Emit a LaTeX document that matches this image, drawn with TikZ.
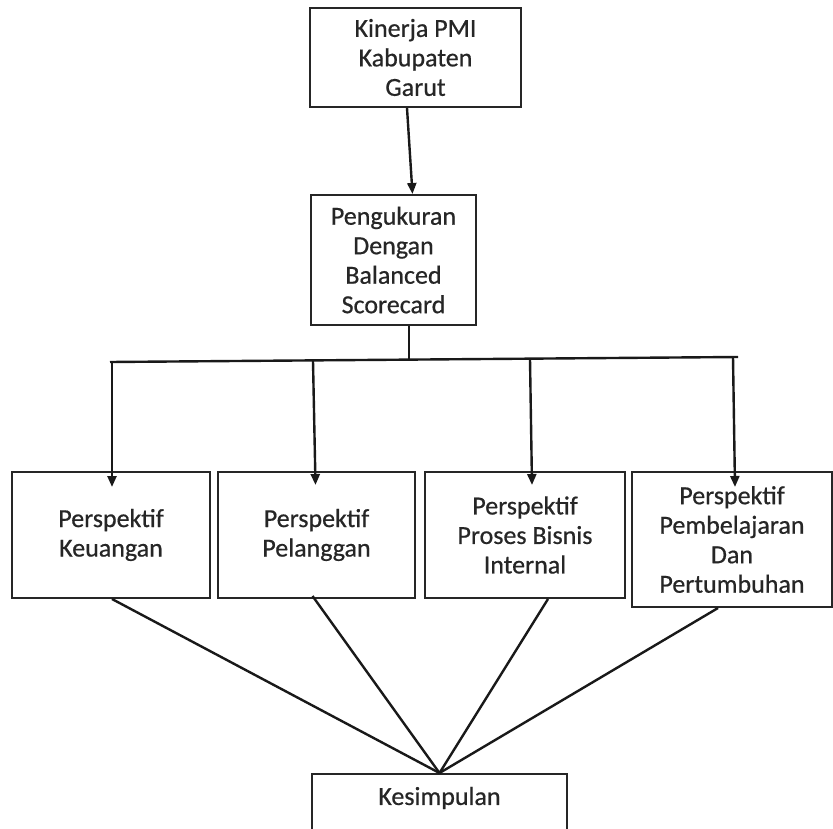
\documentclass[tikz,border=0pt]{standalone}
\usepackage{fontspec}
\setmainfont{Carlito}
\newfontfamily\boxfont{Carlito}[FakeBold=0.6]
\usetikzlibrary{arrows.meta}
\definecolor{txt}{HTML}{262626}
\tikzset{
  box/.style={draw=black!85, line width=2pt, rectangle, align=center, text=txt,
    font=\boxfont\fontsize{26}{29.5}\selectfont, inner sep=2pt},
  conn/.style={draw=black!90, line width=2.4pt},
  arr/.style={conn, -{Triangle[width=9pt,length=11pt]}}
}
\begin{document}
\begin{tikzpicture}[x=1pt,y=-1pt]
\useasboundingbox (0,0) rectangle (833,829);
\clip (0,0) rectangle (833,829);
\node[box, minimum width=211pt, minimum height=99pt] (top) at (415.5,57.5) {Kinerja PMI\\Kabupaten\\Garut};
\node[box, minimum width=165pt, minimum height=130pt] (pen) at (393.5,260) {Pengukuran\\Dengan\\Balanced\\Scorecard};
\node[box, minimum width=198pt, minimum height=126pt] (b1) at (111,535) {Perspektif\\Keuangan};
\node[box, minimum width=197pt, minimum height=126pt] (b2) at (316.5,535) {Perspektif\\Pelanggan};
\node[box, minimum width=200pt, minimum height=126pt] (b3) at (525,535) {Perspektif\\Proses Bisnis\\Internal};
\node[box, minimum width=200pt, minimum height=135pt] (b4) at (732,539.5) {Perspektif\\Pembelajaran\\Dan\\Pertumbuhan};
\node[box, minimum width=255pt, minimum height=100pt, anchor=north] (kes) at (439.5,773) {};
\node[text=txt, font=\boxfont\fontsize{26}{29.5}\selectfont] (kest) at ([yshift=-25pt]kes.north) {Kesimpulan};
% top arrow
\draw[arr] ([xshift=-8.5pt]top.south) -- ([xshift=19pt]pen.north);
% bus
\coordinate (busM) at (409,360);
\coordinate (busL) at (110,362);
\coordinate (busR) at (738,357);
\draw[conn] ([xshift=15.5pt]pen.south) -- (busM);
\draw[conn] (busL) -- (busR);
\coordinate (d1) at (112,362);
\coordinate (d2) at (313,361);
\coordinate (d3) at (530,359);
\coordinate (d4) at (733,357);
\draw[arr] (d1) -- ([xshift=1pt,yshift=-16pt]b1.north);
\draw[arr] (d2) -- ([xshift=-1pt,yshift=-14pt]b2.north);
\draw[arr] (d3) -- ([xshift=7pt,yshift=-14pt]b3.north);
\draw[arr] (d4) -- ([xshift=3pt,yshift=-16pt]b4.north);
% converging lines
\draw[conn] ([xshift=1pt]b1.south) -- (kes.north);
\draw[conn] ([xshift=-4pt,yshift=3pt]b2.south) -- (kes.north);
\draw[conn] ([xshift=23pt]b3.south) -- (kes.north);
\draw[conn] ([xshift=-14pt]b4.south) -- (kes.north);
\end{tikzpicture}
\end{document}
